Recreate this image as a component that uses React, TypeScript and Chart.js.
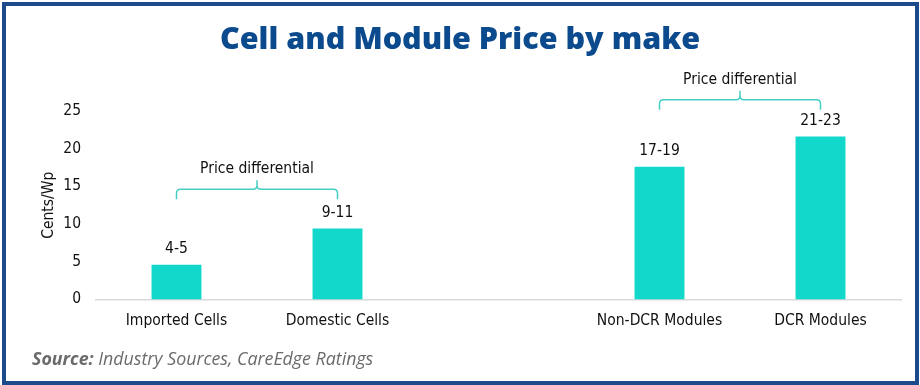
import React, { useEffect, useRef } from "react";
import { Chart, registerables } from "chart.js";

Chart.register(...registerables);

const categories = ["Imported Cells", "Domestic Cells", "", "Non-DCR Modules", "DCR Modules"];
const prices: (number | null)[] = [4.6, 9.4, null, 17.6, 21.6];
const priceLabels = ["4-5", "9-11", "", "17-19", "21-23"];
const yMin = 0;
const yMax = 25;
const yStep = 5;
const braceFrom = [0, 3];
const braceTo = [1, 4];
const braceLevel = [14.6, 26.5];
const braceText = ["Price differential", "Price differential"];

const TEXT_FONT = "'DejaVu Sans Condensed', 'DejaVu Sans', Verdana, sans-serif";
const FONT_SIZE = 15.5;
const BAR_COLOR = "#12d8cb";
const BRACE_COLOR = "#45cfc4";

const annotate = {
  id: "annotate",
  afterDatasetsDraw(chart: any) {
    const ctx = chart.ctx;
    const xs = chart.scales.x;
    const ys = chart.scales.y;
    ctx.save();
    ctx.font = `${FONT_SIZE}px ${TEXT_FONT}`;
    ctx.fillStyle = "#111";
    ctx.textAlign = "center";
    ctx.textBaseline = "middle";
    const meta = chart.getDatasetMeta(0);
    meta.data.forEach((bar: any, i: number) => {
      if (prices[i] == null || !priceLabels[i]) return;
      ctx.fillText(priceLabels[i], bar.x, bar.y - 16);
    });
    braceFrom.forEach((from, k) => {
      const x1 = xs.getPixelForValue(from);
      const x2 = xs.getPixelForValue(braceTo[k]);
      const y = ys.getPixelForValue(braceLevel[k]);
      const mid = (x1 + x2) / 2;
      const r = 4;
      ctx.strokeStyle = BRACE_COLOR;
      ctx.lineWidth = 1.5;
      ctx.beginPath();
      ctx.moveTo(x1, y + 10);
      ctx.lineTo(x1, y + r);
      ctx.quadraticCurveTo(x1, y, x1 + r, y);
      ctx.lineTo(mid - r, y);
      ctx.quadraticCurveTo(mid, y, mid, y - r);
      ctx.lineTo(mid, y - 9);
      ctx.moveTo(mid, y - r);
      ctx.quadraticCurveTo(mid, y, mid + r, y);
      ctx.lineTo(x2 - r, y);
      ctx.quadraticCurveTo(x2, y, x2, y + r);
      ctx.lineTo(x2, y + 10);
      ctx.stroke();
      ctx.fillStyle = "#111";
      ctx.fillText(braceText[k], mid, y - 20);
    });
    ctx.restore();
  },
};

export default function App() {
  const ref = useRef<HTMLCanvasElement | null>(null);

  useEffect(() => {
    document.body.style.margin = "0";
    if (!ref.current) return;
    const chart = new Chart(ref.current, {
      type: "bar",
      data: {
        labels: categories,
        datasets: [
          {
            data: prices as any,
            backgroundColor: BAR_COLOR,
            barPercentage: 0.62,
            categoryPercentage: 0.5,
          },
        ],
      },
      options: {
        animation: false,
        responsive: false,
        layout: { padding: { top: 111, left: 37, right: 19, bottom: 43 } },
        plugins: {
          legend: { display: false },
          tooltip: { enabled: false },
        },
        scales: {
          x: {
            grid: { display: false, drawTicks: false },
            border: { display: true, color: "#d9d9d9", width: 1.5 },
            ticks: { color: "#111", font: { family: TEXT_FONT, size: FONT_SIZE }, padding: 12, maxRotation: 0, autoSkip: false },
          },
          y: {
            min: yMin,
            max: yMax,
            grid: { display: false, drawTicks: false },
            border: { display: false },
            ticks: { stepSize: yStep, color: "#111", font: { family: TEXT_FONT, size: FONT_SIZE }, padding: 15 },
            title: { display: true, text: "Cents/Wp", color: "#111", font: { family: TEXT_FONT, size: FONT_SIZE }, padding: { top: 3, bottom: 4 } },
            afterFit(scale: any) {
              scale.width = 59;
            },
          },
        },
      },
      plugins: [annotate],
    });
    return () => chart.destroy();
  }, []);

  return (
    <div style={{ position: "relative", width: 920, height: 385, background: "#fff", overflow: "hidden" }}>
      <canvas ref={ref} width={920} height={385} style={{ position: "absolute", left: 0, top: 0 }} />
      <div
        style={{
          position: "absolute",
          left: 0,
          right: 0,
          top: 17,
          textAlign: "center",
          fontFamily: "'Open Sans', sans-serif",
          fontWeight: 800,
          fontSize: 30.5,
          color: "#0c4a8e",
          lineHeight: "40px",
        }}
      >
        Cell and Module Price by make
      </div>
      <div
        style={{
          position: "absolute",
          left: 32,
          top: 346,
          fontFamily: "'Open Sans', sans-serif",
          fontStyle: "italic",
          fontSize: 17.8,
          color: "#6b6b6b",
          lineHeight: "24px",
        }}
      >
        <b>Source:</b> Industry Sources, CareEdge Ratings
      </div>
      <div
        style={{
          position: "absolute",
          left: 2,
          top: 2,
          width: 917,
          height: 383,
          boxSizing: "border-box",
          border: "4px solid #1d4a8a",
          pointerEvents: "none",
        }}
      />
    </div>
  );
}
